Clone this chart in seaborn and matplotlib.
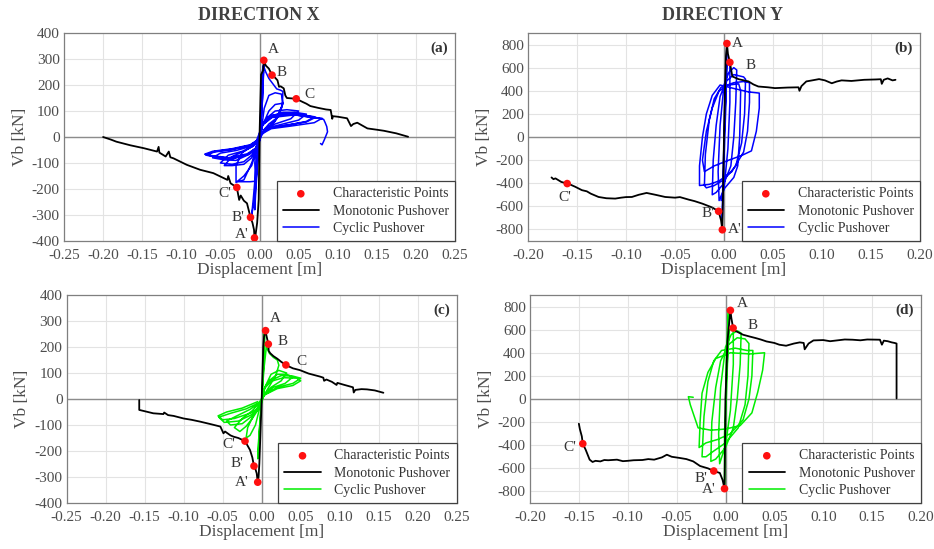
import matplotlib
matplotlib.use("Agg")
import matplotlib.pyplot as plt
from matplotlib.ticker import FormatStrFormatter
import seaborn as sns
import pandas as pd

# ---------------- DATA ----------------
titles = ["DIRECTION X", "DIRECTION Y"]
panel_tags = ["(a)", "(b)", "(c)", "(d)"]
legend_labels = ["Characteristic Points", "Monotonic Pushover", "Cyclic Pushover"]
point_names = ["A", "B", "C", "A'", "B'", "C'"]

x_ticks_x = [-0.25, -0.20, -0.15, -0.10, -0.05, 0.00, 0.05, 0.10, 0.15, 0.20, 0.25]
x_ticks_y = [-0.20, -0.15, -0.10, -0.05, 0.00, 0.05, 0.10, 0.15, 0.20]
y_ticks_x = [-400, -300, -200, -100, 0, 100, 200, 300, 400]
y_ticks_y = [-800, -600, -400, -200, 0, 200, 400, 600, 800]

# (a) Direction X, blue cyclic
a_mono = [(-0.200, 0), (-0.190, -10), (-0.183, -18), (-0.165, -32), (-0.148, -43), (-0.131, -56),
          (-0.129, -38), (-0.128, -60), (-0.120, -75), (-0.116, -56), (-0.114, -78), (-0.110, -82),
          (-0.093, -107), (-0.076, -126), (-0.059, -139), (-0.050, -152), (-0.041, -165), (-0.040, -150),
          (-0.037, -178), (-0.029, -194), (-0.026, -242), (-0.024, -225), (-0.020, -245), (-0.016, -255),
          (-0.0115, -309), (-0.009, -330), (-0.007, -357), (-0.0064, -388), (-0.005, -375), (-0.003, -330),
          (-0.001, -240), (0.000, 0), (0.002, 240), (0.0047, 257), (0.0055, 295), (0.008, 275),
          (0.012, 263), (0.016, 238), (0.020, 228), (0.023, 218), (0.025, 193), (0.027, 195),
          (0.031, 187), (0.033, 160), (0.035, 150), (0.047, 147), (0.055, 135), (0.060, 128),
          (0.065, 119), (0.075, 112), (0.085, 106), (0.091, 104), (0.093, 70), (0.094, 80),
          (0.100, 78), (0.112, 72), (0.117, 42), (0.120, 50), (0.125, 55), (0.138, 33),
          (0.150, 28), (0.159, 24), (0.175, 14), (0.190, 1)]
a_cyc = [(0.000, 0), (0.002, 120), (0.004, 260), (0.006, 290), (0.005, 230), (0.003, 100), (0.000, 0),
         (-0.003, -120), (-0.007, -250), (-0.010, -300), (-0.008, -240), (-0.004, -100), (0.000, 0),
         (0.002, 110), (0.004, 230), (0.005, 250), (0.004, 150), (0.001, 20), (-0.002, -80),
         (-0.005, -220), (-0.006, -280), (-0.005, -180), (-0.002, -40), (0.000, 0),
         (0.003, 150), (0.005, 275), (0.008, 250), (0.012, 225), (0.017, 205), (0.022, 185), (0.027, 180),
         (0.030, 175), (0.029, 120), (0.020, 60), (0.008, 25), (0.002, 5), (-0.004, -50), (-0.010, -110),
         (-0.020, -150), (-0.030, -175), (-0.030, -110), (-0.022, -60), (-0.010, -35), (-0.004, -15),
         (0.003, 40), (0.006, 110), (0.012, 160), (0.020, 170), (0.028, 165), (0.030, 130), (0.022, 70),
         (0.010, 35), (0.003, 10), (-0.003, -40), (-0.010, -100), (-0.020, -165), (-0.028, -172),
         (-0.012, -172), (-0.005, -170), (-0.006, -100), (-0.004, -30),
         (0.000, 0), (0.004, 45), (0.012, 100), (0.020, 125), (0.030, 130), (0.025, 80), (0.012, 50),
         (0.005, 25), (0.000, 0), (-0.004, -40), (-0.010, -80), (-0.020, -105), (-0.035, -110),
         (-0.045, -110), (-0.035, -75), (-0.020, -55), (-0.008, -35), (-0.003, -15),
         (0.000, 0), (0.004, 50), (0.010, 75), (0.020, 100), (0.035, 105), (0.050, 100), (0.040, 70),
         (0.020, 50), (0.008, 35), (0.003, 15), (0.000, 0), (-0.004, -40), (-0.010, -70), (-0.020, -95),
         (-0.035, -105), (-0.050, -100), (-0.040, -70), (-0.022, -55), (-0.008, -35), (-0.003, -15),
         (0.000, 0), (0.004, 50), (0.012, 78), (0.030, 95), (0.045, 95), (0.060, 88), (0.050, 65),
         (0.030, 50), (0.010, 35), (0.003, 15), (0.000, 0), (-0.004, -40), (-0.012, -65), (-0.030, -90),
         (-0.045, -88), (-0.060, -80), (-0.050, -62), (-0.030, -52), (-0.010, -35), (-0.003, -15),
         (0.000, 0), (0.004, 50), (0.014, 82), (0.035, 92), (0.055, 85), (0.070, 78), (0.060, 60),
         (0.035, 45), (0.012, 35), (0.003, 15), (0.000, 0), (-0.004, -40), (-0.014, -66), (-0.035, -85),
         (-0.055, -78), (-0.068, -70), (-0.058, -58), (-0.035, -48), (-0.012, -33), (-0.003, -15),
         (0.000, 0), (0.004, 48), (0.015, 80), (0.035, 90), (0.055, 83), (0.072, 76), (0.060, 58),
         (0.035, 46), (0.012, 33), (0.003, 14), (0.000, 0), (-0.004, -42), (-0.015, -68), (-0.035, -82),
         (-0.055, -76), (-0.069, -68), (-0.058, -56), (-0.035, -47), (-0.012, -32), (-0.003, -14),
         (0.000, 0), (0.004, 48), (0.016, 78), (0.040, 88), (0.060, 78), (0.080, 72), (0.070, 55),
         (0.040, 42), (0.015, 32), (0.003, 12), (0.000, 0), (-0.004, -42), (-0.016, -65), (-0.040, -80),
         (-0.060, -72), (-0.070, -66), (-0.060, -55), (-0.035, -45), (-0.012, -30), (-0.003, -12),
         (0.000, 0), (0.004, 46), (0.016, 75), (0.045, 85), (0.070, 75), (0.082, 68), (0.084, 55),
         (0.086, 40), (0.087, 20), (0.085, 5), (0.083, -10), (0.080, -30), (0.078, -25)]
a_pts = [(0.0055, 295), (0.016, 238), (0.047, 147), (-0.0064, -388), (-0.0115, -309), (-0.029, -194)]

# (b) Direction Y, blue cyclic
b_mono = [(-0.176, -350), (-0.174, -365), (-0.172, -358), (-0.166, -389), (-0.160, -403), (-0.156, -415),
          (-0.152, -430), (-0.145, -460), (-0.140, -470), (-0.136, -490), (-0.128, -519), (-0.120, -530),
          (-0.111, -533), (-0.105, -525), (-0.100, -520), (-0.094, -519), (-0.087, -500), (-0.079, -484),
          (-0.070, -500), (-0.060, -519), (-0.050, -525), (-0.045, -520), (-0.036, -542), (-0.030, -555),
          (-0.022, -577), (-0.012, -610), (-0.0055, -643), (-0.003, -722), (-0.0017, -803), (-0.001, -500),
          (0.000, 0), (0.001, 400), (0.002, 700), (0.003, 809), (0.004, 720), (0.006, 646), (0.0085, 524),
          (0.015, 500), (0.025, 481), (0.030, 455), (0.035, 437), (0.045, 430), (0.052, 423), (0.065, 428),
          (0.076, 430), (0.077, 400), (0.079, 440), (0.084, 481), (0.090, 490), (0.097, 501), (0.103, 490),
          (0.110, 465), (0.115, 480), (0.120, 490), (0.130, 485), (0.143, 495), (0.155, 498), (0.160, 500),
          (0.161, 460), (0.163, 495), (0.167, 507), (0.172, 490), (0.175, 495)]
b_cyc = [(0.000, 0), (0.001, 400), (0.003, 800), (0.002, 300), (0.000, -200), (-0.002, -780),
         (-0.001, -300), (0.001, 200), (0.003, 620), (0.006, 640), (0.006, 300), (0.004, -100),
         (0.000, -450), (-0.005, -550), (-0.006, -300), (-0.004, 100), (0.000, 450), (0.005, 560),
         (0.010, 600), (0.013, 580), (0.012, 300), (0.010, 0), (0.007, -250), (0.000, -400),
         (-0.008, -480), (-0.012, -500), (-0.011, -200), (-0.008, 100), (-0.004, 350), (0.002, 480),
         (0.010, 540), (0.020, 520), (0.022, 500), (0.021, 200), (0.018, -50), (0.012, -250),
         (0.000, -370), (-0.010, -420), (-0.018, -440), (-0.020, -420), (-0.019, -150), (-0.015, 150),
         (-0.010, 330), (-0.003, 430), (0.010, 470), (0.020, 480), (0.026, 470), (0.026, 300),
         (0.024, 50), (0.020, -130), (0.008, -300), (-0.005, -380), (-0.015, -410), (-0.025, -420),
         (-0.025, -250), (-0.022, 0), (-0.018, 200), (-0.012, 360), (-0.004, 450), (0.010, 420),
         (0.025, 390), (0.036, 380), (0.036, 250), (0.033, 50), (0.028, -120), (0.018, -160),
         (0.005, -200), (-0.010, -250), (-0.020, -300), (-0.022, -200), (-0.018, 50), (-0.012, 250),
         (-0.005, 400), (0.005, 450), (0.015, 460), (0.017, 400), (0.016, 0), (0.014, -250),
         (0.010, -350), (0.000, -450), (-0.003, -550)]
b_pts = [(0.003, 809), (0.006, 646), None, (-0.0017, -803), (-0.0055, -643), (-0.160, -403)]

# (c) Direction X, green cyclic
c_mono = [(-0.157, -4), (-0.157, -42), (-0.150, -47), (-0.139, -55), (-0.126, -58), (-0.125, -52),
          (-0.120, -62), (-0.113, -65), (-0.100, -75), (-0.090, -80), (-0.079, -87), (-0.065, -97),
          (-0.053, -106), (-0.049, -132), (-0.047, -125), (-0.040, -140), (-0.036, -145), (-0.030, -150),
          (-0.0214, -162), (-0.018, -180), (-0.015, -196), (-0.012, -225), (-0.0099, -258), (-0.008, -270),
          (-0.0064, -286), (-0.0051, -320), (-0.004, -300), (-0.003, -247), (0.000, 0), (0.002, 200),
          (0.003, 240), (0.005, 263), (0.006, 245), (0.0085, 211), (0.009, 185), (0.011, 176),
          (0.015, 165), (0.020, 155), (0.025, 143), (0.031, 131), (0.035, 125), (0.040, 118),
          (0.049, 111), (0.060, 98), (0.075, 86), (0.079, 82), (0.080, 70), (0.083, 75), (0.090, 66),
          (0.096, 54), (0.097, 62), (0.105, 55), (0.117, 45), (0.118, 25), (0.120, 35), (0.128, 38),
          (0.135, 37), (0.145, 33), (0.156, 24)]
c_cyc = [(0.000, 0), (0.002, 120), (0.003, 250), (0.004, 240), (0.003, 150), (0.000, 0),
         (-0.003, -120), (-0.005, -230), (-0.004, -160), (-0.001, -40), (0.000, 0),
         (0.003, 120), (0.006, 200), (0.010, 175), (0.015, 160), (0.020, 150), (0.022, 130),
         (0.018, 90), (0.008, 40), (0.003, 15), (-0.003, -40), (-0.008, -100), (-0.015, -140),
         (-0.020, -150), (-0.018, -110), (-0.010, -60), (-0.003, -20),
         (0.000, 0), (0.004, 45), (0.012, 95), (0.022, 110), (0.032, 100), (0.025, 70), (0.012, 45),
         (0.004, 18), (0.000, 0), (-0.004, -38), (-0.012, -75), (-0.020, -105), (-0.028, -125),
         (-0.035, -110), (-0.025, -75), (-0.012, -45), (-0.003, -15),
         (0.000, 0), (0.004, 45), (0.010, 72), (0.020, 95), (0.032, 95), (0.040, 85), (0.030, 60),
         (0.015, 45), (0.004, 18), (0.000, 0), (-0.004, -38), (-0.012, -65), (-0.025, -95),
         (-0.040, -100), (-0.045, -85), (-0.032, -65), (-0.015, -40), (-0.003, -15),
         (0.000, 0), (0.004, 45), (0.012, 72), (0.025, 90), (0.040, 88), (0.050, 80), (0.040, 60),
         (0.020, 45), (0.004, 18), (0.000, 0), (-0.004, -38), (-0.014, -62), (-0.030, -85),
         (-0.048, -90), (-0.055, -70), (-0.040, -55), (-0.020, -38), (-0.003, -14),
         (0.000, 0), (0.004, 42), (0.012, 68), (0.028, 82), (0.045, 80), (0.050, 70), (0.040, 52),
         (0.020, 40), (0.004, 16), (0.000, 0), (-0.004, -36), (-0.015, -55), (-0.035, -75),
         (-0.050, -80), (-0.056, -65), (-0.045, -50), (-0.025, -35), (-0.005, -10)]
c_pts = [(0.005, 263), (0.0085, 211), (0.031, 131), (-0.0051, -320), (-0.0099, -258), (-0.0214, -162)]

# (d) Direction Y, green cyclic
d_mono = [(-0.150, -214), (-0.149, -260), (-0.147, -323), (-0.146, -387), (-0.143, -440), (-0.139, -525),
          (-0.136, -545), (-0.133, -535), (-0.128, -540), (-0.124, -528), (-0.120, -530), (-0.111, -525),
          (-0.105, -538), (-0.100, -535), (-0.094, -530), (-0.085, -528), (-0.079, -520), (-0.073, -525),
          (-0.065, -505), (-0.060, -482), (-0.055, -500), (-0.047, -510), (-0.040, -520), (-0.033, -540),
          (-0.026, -580), (-0.018, -600), (-0.012, -623), (-0.0058, -640), (-0.003, -700), (-0.001, -776),
          (0.000, 0), (0.002, 500), (0.005, 767), (0.006, 700), (0.0078, 614), (0.010, 590), (0.018, 556),
          (0.025, 540), (0.031, 527), (0.036, 515), (0.042, 498), (0.050, 485), (0.055, 470), (0.062, 461),
          (0.070, 480), (0.076, 490), (0.080, 485), (0.081, 430), (0.085, 480), (0.090, 507), (0.100, 510),
          (0.107, 500), (0.114, 507), (0.122, 515), (0.130, 513), (0.138, 508), (0.145, 515), (0.158, 513),
          (0.160, 470), (0.162, 505), (0.166, 500), (0.170, 490), (0.173, 485), (0.175, 480), (0.175, 5)]
d_cyc = [(0.000, 0), (0.001, 400), (0.003, 760), (0.002, 300), (0.000, -200), (-0.001, -740),
         (-0.001, -300), (0.001, 200), (0.004, 600), (0.008, 620), (0.008, 300), (0.005, -100),
         (0.000, -400), (-0.006, -560), (-0.007, -300), (-0.005, 100), (0.000, 450), (0.006, 560),
         (0.012, 590), (0.016, 570), (0.015, 300), (0.012, 0), (0.008, -250), (0.000, -420),
         (-0.010, -520), (-0.015, -540), (-0.014, -200), (-0.010, 100), (-0.005, 330), (0.003, 470),
         (0.012, 530), (0.020, 520), (0.024, 480), (0.023, 200), (0.020, -50), (0.013, -250),
         (0.000, -380), (-0.012, -450), (-0.020, -500), (-0.024, -500), (-0.022, -150), (-0.018, 150),
         (-0.012, 330), (-0.004, 420), (0.010, 440), (0.022, 420), (0.028, 420), (0.027, 200),
         (0.024, 0), (0.018, -180), (0.005, -300), (-0.008, -350), (-0.020, -380), (-0.027, -420),
         (-0.026, -200), (-0.024, 50), (-0.018, 230), (-0.010, 350), (0.005, 400), (0.025, 390),
         (0.040, 400), (0.038, 250), (0.033, 60), (0.027, -120), (0.015, -230), (0.000, -260),
         (-0.015, -270), (-0.028, -250), (-0.032, -150), (-0.036, -50), (-0.038, 20), (-0.033, 15)]
d_pts = [(0.005, 767), (0.0078, 614), None, (-0.001, -776), (-0.012, -623), (-0.146, -387)]

# ---------------- STYLE ----------------
sns.set_theme(style="whitegrid")
plt.rcParams['font.family'] = ['Liberation Serif', 'DejaVu Serif']
plt.rcParams['axes.unicode_minus'] = False

TXT = '#4d4d4d'
fig = plt.figure(figsize=(9.34, 5.49), dpi=100)
W, H = 934.0, 549.0
boxes = [(64, 33, 391, 208), (528, 33, 392, 208), (66.7, 295, 390, 208), (530, 295, 391, 208)]

# label offsets in pixels (dx right, dy up)
offs = [
    [(10, 11), (10, 3), (13, 4), (-13, 3), (-13, 0), (-12, -6)],
    [(10, 0), (21, -3), None, (12, 0), (-11, -2), (-2, -14)],
    [(10, 12), (14, 3), (16, 3), (-16, 0), (-17, 3), (-16, -3)],
    [(12, 7), (19, 3), None, (-16, -1), (-13, -8), (-13, -4)],
]
panels = [
    (a_mono, a_cyc, a_pts, '#0000ff', (-0.25, 0.25), (-400, 400), x_ticks_x, y_ticks_x),
    (b_mono, b_cyc, b_pts, '#0000ff', (-0.20, 0.20), (-900, 900), x_ticks_y, y_ticks_y),
    (c_mono, c_cyc, c_pts, '#00ee00', (-0.25, 0.25), (-400, 400), x_ticks_x, y_ticks_x),
    (d_mono, d_cyc, d_pts, '#00ee00', (-0.20, 0.20), (-900, 900), x_ticks_y, y_ticks_y),
]

for i, (mono, cyc, pts, col, xl, yl, xt, yt) in enumerate(panels):
    l, t, w, h = boxes[i]
    ax = fig.add_axes([l / W, 1 - (t + h) / H, w / W, h / H])
    md = pd.DataFrame(mono, columns=['d', 'v'])
    cd = pd.DataFrame(cyc, columns=['d', 'v'])
    keep = [(p, n, o) for p, n, o in zip(pts, point_names, offs[i]) if p is not None]
    pdf = pd.DataFrame([p for p, _, _ in keep], columns=['d', 'v'])

    ax.axhline(0, color='#8c8c8c', lw=1.0, zorder=1)
    ax.axvline(0, color='#8c8c8c', lw=1.0, zorder=1)
    sns.lineplot(data=cd, x='d', y='v', sort=False, estimator=None, color=col, lw=1.1,
                 ax=ax, label=legend_labels[2], zorder=3)
    sns.lineplot(data=md, x='d', y='v', sort=False, estimator=None, color='black', lw=1.3,
                 ax=ax, label=legend_labels[1], zorder=4)
    sns.scatterplot(data=pdf, x='d', y='v', color='#ff1010', s=30, edgecolor='none',
                    ax=ax, label=legend_labels[0], zorder=6)
    for (p, n, o) in keep:
        ax.annotate(n, xy=p, xytext=(o[0] * 0.72, o[1] * 0.72), textcoords='offset points',
                    ha='center', va='center', fontsize=11, color='#333333', zorder=7)

    ax.set_xlim(*xl)
    ax.set_ylim(*yl)
    ax.set_xticks(xt)
    ax.set_yticks(yt)
    ax.xaxis.set_major_formatter(FormatStrFormatter('%.2f'))
    ax.tick_params(axis='both', labelsize=11, labelcolor=TXT, direction='in', length=3,
                   width=0.8, color='#7f7f7f', top=False, right=False)
    ax.tick_params(axis='x', pad=6)
    ax.tick_params(axis='y', pad=3)
    ax.grid(True, color='#e3e3e3', lw=0.8)
    ax.set_facecolor('white')
    for s in ax.spines.values():
        s.set_color('#7f7f7f')
        s.set_linewidth(0.9)
    ax.set_xlabel('Displacement [m]', fontsize=12.5, color=TXT, labelpad=0)
    ax.set_ylabel('Vb [kN]', fontsize=12.5, color=TXT, labelpad=3)
    ax.text(0.982, 0.928, panel_tags[i], transform=ax.transAxes, ha='right', va='center',
            fontsize=11, fontweight='bold', color='#333333')

    hd, lb = ax.get_legend_handles_labels()
    order = [lb.index(x) for x in legend_labels]
    leg = ax.legend([hd[k] for k in order], [lb[k] for k in order], loc='lower right',
                    borderaxespad=0, fontsize=10, frameon=True, fancybox=False, framealpha=1,
                    edgecolor='#404040', handlelength=2.6, labelspacing=0.3, borderpad=0.45,
                    handletextpad=1.0)
    leg.get_frame().set_linewidth(0.9)
    for txt in leg.get_texts():
        txt.set_color('#333333')

fig.text(259 / W, 1 - 15 / H, titles[0], ha='center', va='center', fontsize=13,
         fontweight='bold', color='#404040')
fig.text(723 / W, 1 - 15 / H, titles[1], ha='center', va='center', fontsize=13,
         fontweight='bold', color='#404040')

fig.savefig('out.png', dpi=100)
